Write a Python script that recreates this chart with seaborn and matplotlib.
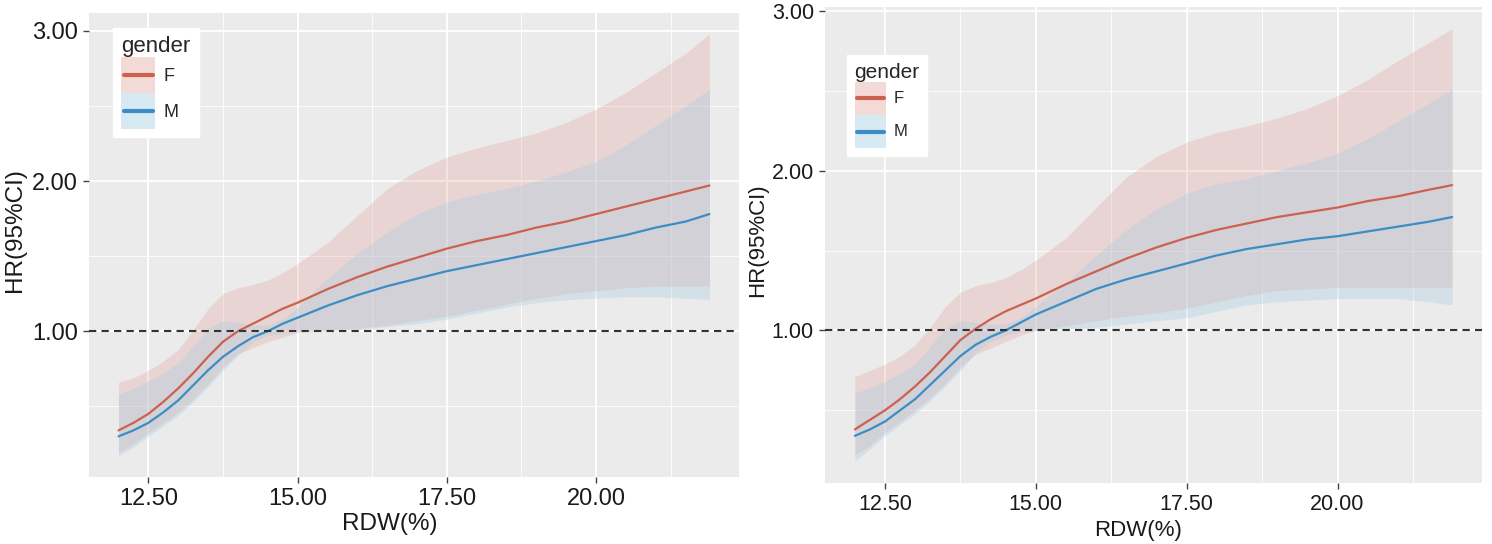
import matplotlib
matplotlib.use("Agg")
import matplotlib.pyplot as plt
import pandas as pd
import seaborn as sns
from matplotlib.patches import Rectangle
from matplotlib.lines import Line2D
from matplotlib.legend_handler import HandlerBase

# RDW grid shared by both panels
rdw = [12.0, 12.25, 12.5, 12.75, 13.0, 13.25, 13.5, 13.75, 14.0, 14.25, 14.5,
       14.75, 15.0, 15.5, 16.0, 16.5, 17.0, 17.5, 18.0, 18.5, 19.0, 19.5,
       20.0, 20.5, 21.0, 21.5, 21.9]

# left panel - HR and 95% CI by gender
left_f_hr = [0.34, 0.39, 0.45, 0.53, 0.62, 0.72, 0.83, 0.93, 1.00, 1.05, 1.10,
             1.15, 1.19, 1.28, 1.36, 1.43, 1.49, 1.55, 1.60, 1.64, 1.69, 1.73,
             1.78, 1.83, 1.88, 1.93, 1.97]
left_f_lo = [0.19, 0.25, 0.32, 0.39, 0.46, 0.55, 0.65, 0.76, 0.85, 0.89, 0.93,
             0.96, 0.99, 1.01, 1.02, 1.04, 1.07, 1.10, 1.14, 1.18, 1.22, 1.25,
             1.27, 1.29, 1.30, 1.30, 1.30]
left_f_hi = [0.66, 0.69, 0.74, 0.80, 0.88, 1.01, 1.15, 1.25, 1.29, 1.31, 1.34,
             1.39, 1.45, 1.59, 1.77, 1.95, 2.07, 2.16, 2.22, 2.27, 2.32, 2.39,
             2.48, 2.59, 2.72, 2.85, 2.98]
left_m_hr = [0.30, 0.34, 0.39, 0.46, 0.54, 0.64, 0.74, 0.83, 0.90, 0.96, 1.00,
             1.05, 1.09, 1.17, 1.24, 1.30, 1.35, 1.40, 1.44, 1.48, 1.52, 1.56,
             1.60, 1.64, 1.69, 1.73, 1.78]
left_m_lo = [0.17, 0.23, 0.30, 0.37, 0.44, 0.53, 0.63, 0.74, 0.84, 0.93, 0.97,
             0.99, 1.00, 1.00, 1.01, 1.03, 1.05, 1.08, 1.12, 1.16, 1.19, 1.21,
             1.22, 1.23, 1.23, 1.22, 1.21]
left_m_hi = [0.58, 0.62, 0.67, 0.72, 0.79, 0.90, 1.02, 1.07, 1.06, 1.04, 1.04,
             1.08, 1.16, 1.35, 1.52, 1.66, 1.78, 1.86, 1.91, 1.95, 2.00, 2.06,
             2.13, 2.24, 2.37, 2.50, 2.61]

# right panel
right_f_hr = [0.38, 0.44, 0.50, 0.57, 0.65, 0.74, 0.84, 0.94, 1.01, 1.07, 1.12,
              1.16, 1.20, 1.29, 1.37, 1.45, 1.52, 1.58, 1.63, 1.67, 1.71, 1.74,
              1.77, 1.81, 1.84, 1.88, 1.91]
right_f_lo = [0.22, 0.28, 0.36, 0.43, 0.50, 0.58, 0.67, 0.77, 0.85, 0.89, 0.93,
              0.97, 1.00, 1.03, 1.06, 1.09, 1.11, 1.14, 1.18, 1.22, 1.25, 1.26,
              1.27, 1.27, 1.27, 1.27, 1.27]
right_f_hi = [0.71, 0.75, 0.79, 0.84, 0.91, 1.02, 1.15, 1.24, 1.28, 1.30, 1.33,
              1.38, 1.44, 1.58, 1.77, 1.96, 2.09, 2.18, 2.24, 2.28, 2.33, 2.39,
              2.47, 2.57, 2.69, 2.80, 2.89]
right_m_hr = [0.34, 0.38, 0.43, 0.50, 0.57, 0.66, 0.75, 0.84, 0.91, 0.96, 1.00,
              1.05, 1.10, 1.18, 1.26, 1.32, 1.37, 1.42, 1.47, 1.51, 1.54, 1.57,
              1.59, 1.62, 1.65, 1.68, 1.71]
right_m_lo = [0.18, 0.26, 0.34, 0.41, 0.48, 0.56, 0.65, 0.75, 0.86, 0.93, 0.97,
              0.99, 1.00, 1.01, 1.02, 1.04, 1.06, 1.08, 1.12, 1.16, 1.18, 1.19,
              1.20, 1.20, 1.20, 1.18, 1.16]
right_m_hi = [0.61, 0.64, 0.68, 0.73, 0.79, 0.90, 1.01, 1.06, 1.05, 1.04, 1.04,
              1.08, 1.15, 1.30, 1.47, 1.63, 1.76, 1.86, 1.92, 1.95, 2.00, 2.05,
              2.11, 2.20, 2.31, 2.42, 2.51]

genders = ["F", "M"]
x_ticks = [12.5, 15.0, 17.5, 20.0]
y_ticks = [1.0, 2.0, 3.0]
line_colors = {"F": "#CC6150", "M": "#3C8DC6"}
fill_colors = {"F": "#E0968C", "M": "#9CC8E2"}
fill_alpha = {"F": 0.25, "M": 0.30}

sns.set_theme(style="darkgrid")
plt.rcParams["font.family"] = ["Liberation Sans", "DejaVu Sans"]
plt.rcParams["axes.facecolor"] = "#EBEBEB"
plt.rcParams["grid.color"] = "white"

W, H = 1492, 544
fig = plt.figure(figsize=(W / 100, H / 100), dpi=100)
fig.patch.set_facecolor("white")


class KeyHandler(HandlerBase):
    # filled key box with the line drawn across its middle (ggplot style)
    def create_artists(self, legend, orig, xd, yd, w, h, fs, trans):
        g = orig
        rect = Rectangle((-xd, -yd), w, h, facecolor=fill_colors[g],
                         alpha=fill_alpha[g] + 0.1, edgecolor="none",
                         transform=trans)
        mid = h / 2 - yd
        ln = Line2D([-xd + 0.08 * w, -xd + 0.92 * w], [mid, mid],
                    color=line_colors[g], lw=3, transform=trans)
        return [rect, ln]


def expand(lo, hi, frac=0.05):
    span = hi - lo
    return lo - frac * span, hi + frac * span


def panel(rect, f_hr, f_lo, f_hi, m_hr, m_lo, m_hi, cfg):
    l, t, r, b = rect
    ax = fig.add_axes([l / W, 1 - b / H, (r - l) / W, (b - t) / H])
    bands = {"F": (f_lo, f_hi), "M": (m_lo, m_hi)}
    for g in genders:  # F first, M on top
        lo, hi = bands[g]
        ax.fill_between(rdw, lo, hi, color=fill_colors[g], alpha=fill_alpha[g],
                        lw=0, zorder=2)
    df = pd.DataFrame({
        "RDW": rdw * 2,
        "HR": f_hr + m_hr,
        "gender": ["F"] * len(rdw) + ["M"] * len(rdw),
    })
    sns.lineplot(data=df, x="RDW", y="HR", hue="gender", palette=line_colors,
                 lw=1.6, ax=ax, legend=False, zorder=3)
    ax.axhline(1.0, ls=(0, (3.5, 2.5)), color="#333333", lw=1.5, zorder=4)

    ax.set_xlim(*expand(min(rdw), max(rdw)))
    ax.set_ylim(*expand(min(f_lo + m_lo), max(f_hi + m_hi)))
    ax.set_xticks(x_ticks)
    ax.set_xticklabels([f"{v:.2f}" for v in x_ticks])
    ax.set_yticks(y_ticks)
    ax.set_yticklabels([f"{v:.2f}" for v in y_ticks])
    ax.set_xticks([13.75, 16.25, 18.75, 21.25], minor=True)
    ax.set_yticks([0.5, 1.5, 2.5], minor=True)
    ax.grid(which="major", color="white", lw=1.3)
    ax.grid(which="minor", color="white", lw=0.6)
    for s in ax.spines.values():
        s.set_visible(False)
    ax.tick_params(which="major", length=4, width=1, color="#444444",
                   labelsize=cfg["tick"], labelcolor="#1A1A1A", pad=4,
                   bottom=True, left=True)
    ax.tick_params(which="minor", length=0)

    ax.set_xlabel("RDW(%)", fontsize=cfg["lab"], color="#1A1A1A", va="center")
    ax.xaxis.set_label_coords(cfg["xlab"][0], cfg["xlab"][1])
    ax.set_ylabel("HR(95%CI)", fontsize=cfg["lab"], color="#1A1A1A",
                  va="center", ha="center")
    ax.yaxis.set_label_coords(cfg["ylab"][0], cfg["ylab"][1])

    ax.legend(genders, genders, title="gender", loc="upper left",
              handler_map={str: KeyHandler()},
              bbox_to_anchor=(cfg["leg"][0] / W, 1 - cfg["leg"][1] / H),
              bbox_transform=fig.transFigure, frameon=True,
              fancybox=False, facecolor="white", edgecolor="white",
              framealpha=1, fontsize=cfg["legtxt"],
              title_fontsize=cfg["legtitle"], alignment="left",
              handlelength=1.9, handleheight=2.7, labelspacing=0.0,
              handletextpad=0.45, borderpad=0.45, borderaxespad=0)
    return ax


panel((89, 12.7, 739, 477),
      left_f_hr, left_f_lo, left_f_hi, left_m_hr, left_m_lo, left_m_hi,
      {"tick": 17, "lab": 17.5, "xlab": (0.462, -0.101),
       "ylab": (-0.114, 0.532), "leg": (113, 28), "legtxt": 13,
       "legtitle": 16})

panel((825, 7, 1482, 483),
      right_f_hr, right_f_lo, right_f_hi, right_m_hr, right_m_lo, right_m_hi,
      {"tick": 15.5, "lab": 16, "xlab": (0.477, -0.099),
       "ylab": (-0.102, 0.51), "leg": (847, 55), "legtxt": 12,
       "legtitle": 15})

fig.savefig("out.png", dpi=100)
